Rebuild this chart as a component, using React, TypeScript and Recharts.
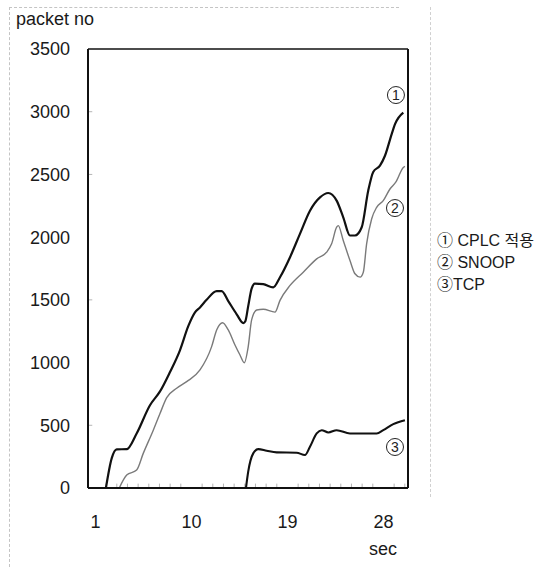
import React from 'react';
import { LineChart, Line, XAxis, YAxis, ReferenceDot, ReferenceLine } from 'recharts';

const FONT = "'Liberation Sans', Arial, 'Noto Sans CJK KR', sans-serif";

const xTicks = [1, 10, 19, 28];
const yTicks = [0, 500, 1000, 1500, 2000, 2500, 3000, 3500];
const minorXTicks = [2, 3, 4, 5, 6, 7, 8, 9, 11, 12, 13, 14, 15, 16, 17, 18, 20, 21, 22, 23, 24, 25, 26, 27, 29, 30];
const minorYTicks = [500, 1500, 2500, 3000];

const cplcTime = [1.98, 2.52, 2.99, 3.93, 4.86, 6.11, 7.05, 7.99, 8.92, 9.7, 10.33, 10.8, 11.42, 12.36, 12.83, 13.45, 14.24, 14.86, 15.05, 15.32, 15.64, 15.95, 16.73, 17.67, 18.3, 19.24, 20.17, 21.11, 22.05, 22.82, 23.61, 24.23, 24.86, 25.33, 25.96, 26.57, 27.04, 27.67, 28.14, 28.77, 29.08, 29.86];
const cplcPackets = [0, 236, 308, 310, 435, 660, 770, 925, 1098, 1290, 1400, 1440, 1500, 1570, 1570, 1490, 1385, 1315, 1330, 1450, 1590, 1630, 1625, 1600, 1680, 1840, 2026, 2211, 2317, 2352, 2291, 2158, 2013, 2013, 2079, 2370, 2520, 2570, 2649, 2822, 2901, 2993];

const snoopTime = [3.23, 3.93, 4.86, 5.48, 6.42, 7.05, 7.68, 8.61, 9.55, 10.8, 11.89, 12.36, 12.92, 13.45, 14.08, 14.55, 14.95, 15.32, 15.64, 16.11, 16.73, 17.83, 18.3, 19.24, 20.48, 21.74, 22.67, 23.14, 23.61, 23.76, 24.23, 24.86, 25.33, 25.81, 26.11, 26.42, 26.89, 27.36, 27.98, 28.61, 29.17, 29.86, 30.01];
const snoopPackets = [0, 103, 143, 276, 461, 594, 720, 795, 848, 941, 1127, 1260, 1318, 1260, 1140, 1060, 999, 1127, 1340, 1419, 1425, 1402, 1496, 1615, 1721, 1827, 1880, 1947, 2079, 2092, 1973, 1814, 1708, 1681, 1720, 1947, 2145, 2238, 2291, 2384, 2440, 2556, 2565];

const tcpTime = [15.11, 15.32, 15.79, 16.26, 17.05, 17.99, 19.86, 20.64, 21.11, 21.74, 22.21, 22.83, 23.61, 24.86, 27.36, 27.98, 28.92, 30.01];
const tcpPackets = [0, 130, 276, 310, 297, 284, 281, 263, 329, 435, 461, 443, 461, 435, 435, 461, 509, 541];

const legendLabels = ['\u2460 CPLC \uC801\uC6A9', '\u2461 SNOOP', '\u2462TCP'];

const toPoints = (t: number[], v: number[]) => t.map((x, i) => ({ t: x, v: v[i] }));
const cplcData = toPoints(cplcTime, cplcPackets);
const snoopData = toPoints(snoopTime, snoopPackets);
const tcpData = toPoints(tcpTime, tcpPackets);

const badge = (n: string) => (props: any) => {
  const { cx, cy } = props;
  return (
    <g>
      <circle cx={cx} cy={cy} r={8.5} fill="#fff" stroke="#222" strokeWidth={1} />
      <text x={cx} y={cy} dy="0.36em" textAnchor="middle" fontSize={14} fontFamily={FONT} fill="#222">
        {n}
      </text>
    </g>
  );
};

const tickStyle = { fontSize: 18, fill: '#1a1a1a', fontFamily: FONT };
const X_MIN = 0.3;
const X_MAX = 30.3;
const Y_MAX = 3500;

export default function App() {
  return (
    <div style={{ position: 'absolute', left: 0, top: 0, width: 552, height: 569, background: '#fff', fontFamily: FONT, color: '#1a1a1a' }}>
      <div style={{ position: 'absolute', left: 9, top: 7, width: 0, height: 560, borderLeft: '1px dashed #c4c4c4' }} />
      <div style={{ position: 'absolute', left: 9, top: 7, width: 390, height: 0, borderTop: '1px dashed #c4c4c4' }} />
      <div style={{ position: 'absolute', left: 430, top: 7, width: 0, height: 490, borderLeft: '1px dashed #d0d0d0' }} />
      <div style={{ position: 'absolute', left: 16, top: 9, fontSize: 18, lineHeight: '20px', whiteSpace: 'nowrap' }}>packet no</div>
      <div style={{ position: 'absolute', left: 369, top: 539, fontSize: 18, lineHeight: '20px' }}>sec</div>
      <div style={{ position: 'absolute', left: 437, top: 230, fontSize: 16, lineHeight: '22px', whiteSpace: 'nowrap' }}>
        {legendLabels.map((s) => (
          <div key={s}>{s}</div>
        ))}
      </div>
      <LineChart width={552} height={569} margin={{ top: 49, right: 144, bottom: 0, left: 0 }} style={{ position: 'absolute', left: 0, top: 0 }}>
        <XAxis
          dataKey="t"
          type="number"
          domain={[X_MIN, X_MAX]}
          ticks={xTicks}
          allowDataOverflow
          height={81}
          tickLine={false}
          tickSize={0}
          tickMargin={27}
          axisLine={{ stroke: '#111', strokeWidth: 2 }}
          tick={tickStyle}
        />
        <YAxis
          type="number"
          domain={[0, Y_MAX]}
          ticks={yTicks}
          width={88}
          allowDataOverflow
          tickLine={false}
          tickSize={0}
          tickMargin={18}
          axisLine={{ stroke: '#111', strokeWidth: 2 }}
          tick={tickStyle}
        />
        <ReferenceLine y={Y_MAX} stroke="#111" strokeWidth={1.6} ifOverflow="visible" />
        <ReferenceLine x={X_MAX} stroke="#111" strokeWidth={2} ifOverflow="visible" />
        {minorXTicks.map((t) => (
          <ReferenceLine key={'mx' + t} segment={[{ x: t, y: 0 }, { x: t, y: 35 }]} stroke="#b5b5b5" strokeWidth={1} />
        ))}
        {minorYTicks.map((v) => (
          <ReferenceLine key={'my' + v} segment={[{ x: X_MIN, y: v }, { x: X_MIN + 0.4, y: v }]} stroke="#b5b5b5" strokeWidth={1} />
        ))}
        <Line data={snoopData} dataKey="v" type="monotone" stroke="#7a7a7a" strokeWidth={1.4} dot={false} isAnimationActive={false} />
        <Line data={cplcData} dataKey="v" type="monotone" stroke="#111" strokeWidth={2.2} dot={false} isAnimationActive={false} />
        <Line data={tcpData} dataKey="v" type="monotone" stroke="#111" strokeWidth={2.1} dot={false} isAnimationActive={false} />
        <ReferenceDot x={29.17} y={3133} r={8.5} shape={badge('1')} ifOverflow="visible" />
        <ReferenceDot x={29.08} y={2232} r={8.5} shape={badge('2')} ifOverflow="visible" />
        <ReferenceDot x={29.08} y={327} r={8.5} shape={badge('3')} ifOverflow="visible" />
      </LineChart>
    </div>
  );
}
